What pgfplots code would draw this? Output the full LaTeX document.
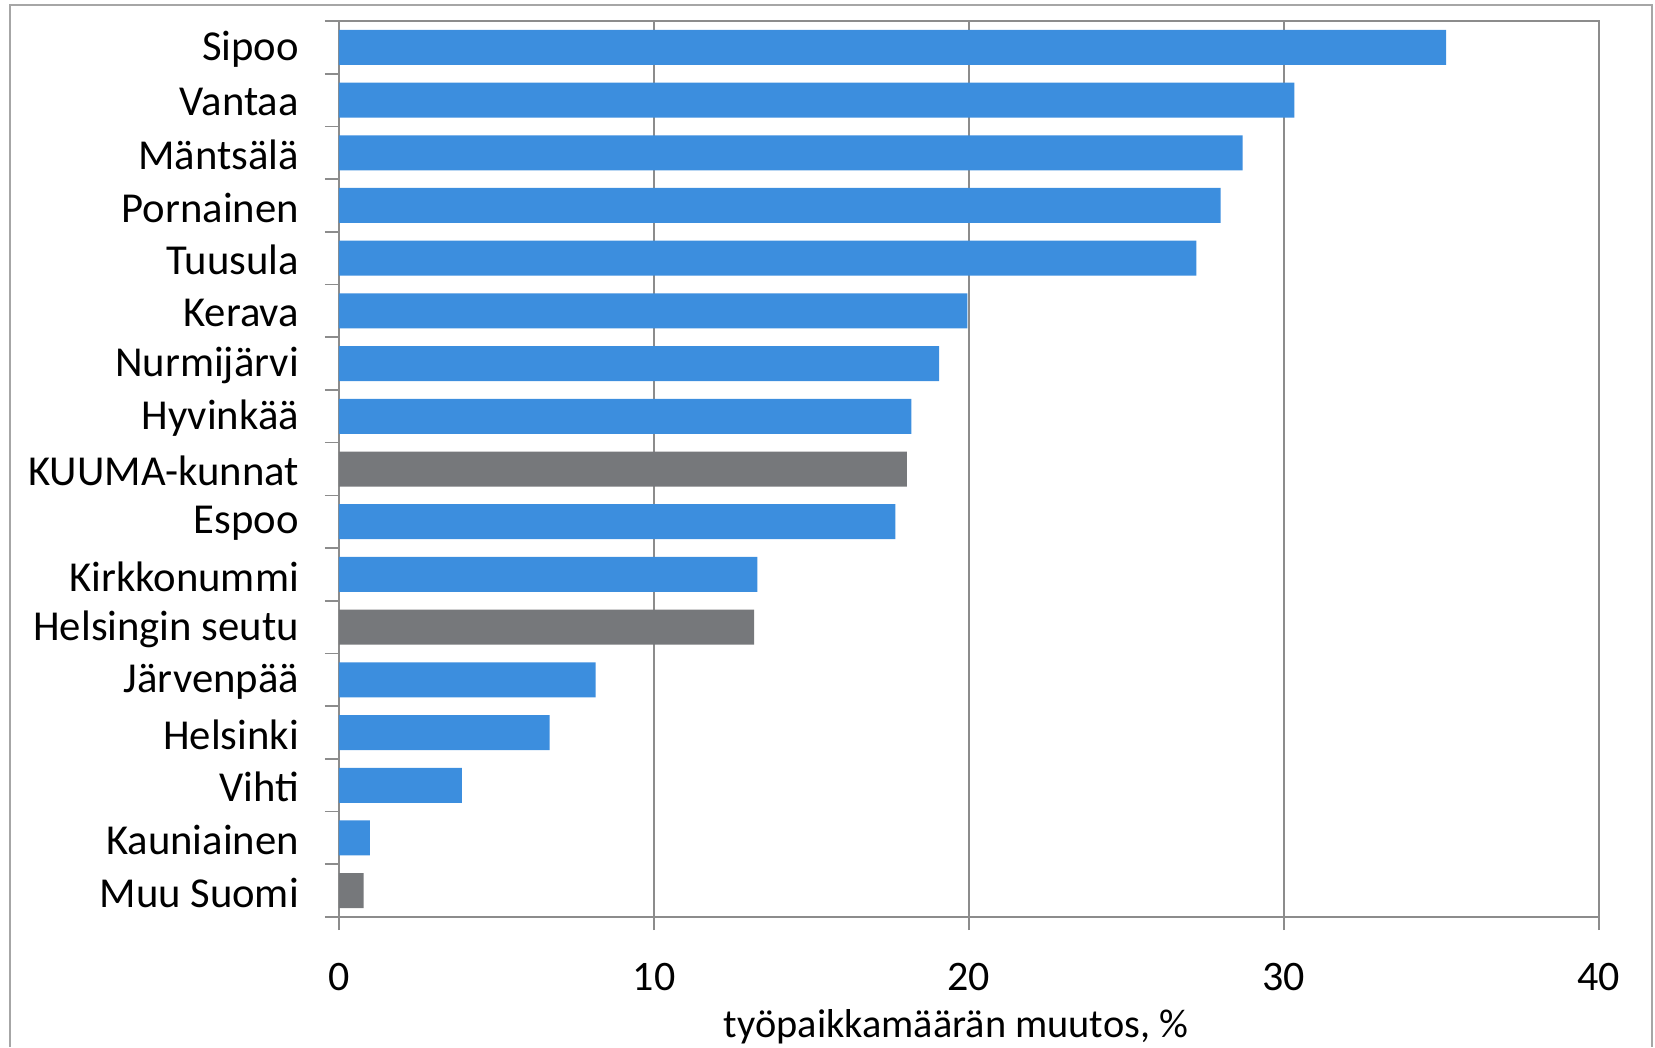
\documentclass[border=0pt]{standalone}
\usepackage{fontspec}
\setmainfont{Carlito}
\usepackage{pgfplots}
\pgfplotsset{compat=1.18}
\definecolor{barblue}{HTML}{3C8EDE}
\definecolor{bargray}{HTML}{76787B}
\definecolor{gridgray}{HTML}{8C8C8C}
\definecolor{framegray}{HTML}{A6A6A6}
\begin{document}
\begin{tikzpicture}[x=0.3pt,y=-0.3pt]
\useasboundingbox (0,0) rectangle (1655,1047);
\draw[framegray, line width=0.5pt] (10,1047) -- (10,5) -- (1652,5) -- (1652,1047);
\begin{axis}[at={(101.7pt,-6.3pt)}, anchor=north west, scale only axis,
  width=378pt, height=268.8pt,
  xbar, bar width=10.5pt, bar shift=0pt,
  xmin=0, xmax=40, ymin=-0.5, ymax=16.5, y dir=reverse,
  xtick={0,10,20,30,40},
  ytick={0,...,16},
  yticklabels={Sipoo,Vantaa,Mäntsälä,Pornainen,Tuusula,Kerava,Nurmijärvi,Hyvinkää,KUUMA-kunnat,Espoo,Kirkkonummi,Helsingin seutu,Järvenpää,Helsinki,Vihti,Kauniainen,Muu Suomi},
  minor ytick={-0.5,0.5,...,16.5},
  xtick pos=bottom, ytick pos=left,
  ytick style={draw=none},
  minor y tick style={draw=gridgray, line width=0.5pt},
  xtick style={draw=gridgray, line width=0.5pt},
  tick align=outside,
  major tick length=3.9pt,
  minor tick length=4.2pt,
  xmajorgrids,
  x grid style={gridgray, line width=0.5pt},
  axis line style={gridgray, line width=0.7pt},
  yticklabel style={font=\fontsize{12.8}{14}\selectfont, xshift=-4.6pt, yshift=-0.6pt},
  xticklabel style={font=\fontsize{12.6}{14}\selectfont, yshift=-6.3pt},
  /pgf/number format/assume math mode=true,
  xlabel={työpaikkamäärän muutos, \%},
  xlabel style={font=\fontsize{12.1}{14}\selectfont, xshift=-3.9pt, yshift=1pt},
]
\addplot[fill=barblue, draw=none] coordinates {
(35.15,0) (30.33,1) (28.69,2) (27.99,3) (27.22,4) (19.95,5) (19.05,6) (18.17,7)
(17.66,9) (13.28,10) (8.15,12) (6.69,13) (3.90,14) (0.98,15)
};
\addplot[fill=bargray, draw=none] coordinates {
(18.03,8) (13.18,11) (0.78,16)
};
\end{axis}
\end{tikzpicture}
\end{document}
